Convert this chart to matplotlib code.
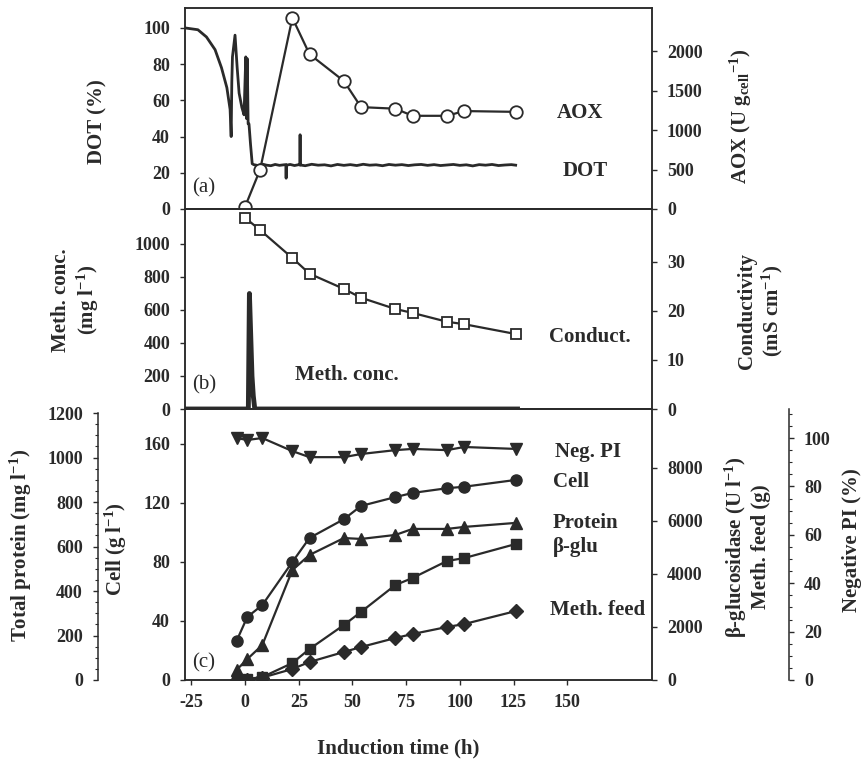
import numpy as np
import matplotlib
matplotlib.use("Agg")
import matplotlib.pyplot as plt
from matplotlib.ticker import MultipleLocator

plt.rcParams['font.family'] = ['Liberation Serif', 'DejaVu Serif']
plt.rcParams['font.weight'] = 'bold'
plt.rcParams['mathtext.fontset'] = 'custom'
plt.rcParams['mathtext.rm'] = 'Liberation Serif:bold'
plt.rcParams['mathtext.it'] = 'Liberation Serif:bold:italic'
plt.rcParams['mathtext.bf'] = 'Liberation Serif:bold'
plt.rcParams['axes.unicode_minus'] = False

INK = '#2a2a2a'

# ---- panel (a): dissolved oxygen (continuous record) and AOX activity
dot_time = [-28, -22, -18, -14, -11, -8.5, -7, -6.5, -6.2, -5.9, -4.7, -3.7, -2.8,
            -1.5, -0.5, 0.3, 0.6, 1.0, 1.4, 1.8, 2.5, 3.3,
            4, 6, 8, 10, 12, 14, 16, 18, 19.0, 19.1, 19.2, 21, 23, 25, 25.5, 25.6,
            25.7, 28, 31, 34, 37, 40, 43, 46, 49, 52, 55, 58, 61, 64, 67, 70, 73,
            76, 79, 82, 85, 88, 91, 94, 97, 100, 103, 106, 109, 112, 115, 118, 121,
            124, 126]
dot_pct = [100, 99, 95, 88, 78, 67, 55, 40, 70, 84, 96, 78, 64,
           56, 52, 84, 50, 83, 47, 47, 36, 25,
           24.5, 24.0, 24.8, 24.2, 23.9, 24.6, 24.1, 24.4, 24.5, 17, 24.2, 24.6, 24.0,
           24.5, 24.3, 41, 24.3, 23.9, 24.7, 24.2, 24.4, 23.8, 24.6, 24.1, 24.5, 24.0,
           24.7, 24.2, 24.4, 23.9, 24.6, 24.2, 24.5, 24.0, 24.4, 24.6, 24.1, 24.5,
           24.0, 24.3, 24.6, 24.1, 24.4, 23.8, 24.5, 24.2, 24.6, 24.0, 24.3, 24.5, 24.2]
t_aox = [0, 7, 22, 30, 46, 54, 70, 78, 94, 102, 126]
aox = [30, 500, 2420, 1960, 1620, 1290, 1270, 1180, 1180, 1240, 1230]

# ---- panel (b): methanol concentration and conductivity
meth_time = [-28, 1.5, 2.0, 2.6, 3.2, 3.8, 4.5, 128]
meth_conc = [0, 0, 700, 450, 200, 80, 0, 0]
t_cond = [0, 7, 22, 30, 46, 54, 70, 78, 94, 102, 126]
cond = [39, 36.5, 30.8, 27.6, 24.5, 22.7, 20.4, 19.6, 17.8, 17.3, 15.3]

# ---- panel (c): cell, protein, beta-glucosidase, methanol feed, negative PI
t_c = [-4, 1, 8, 22, 30, 46, 54, 70, 78, 94, 102, 126]
cell = [26.4, 42.7, 50.8, 80, 96.3, 109, 118, 124, 126.8, 130, 131, 135.6]
protein = [45, 94, 157, 494, 562, 638, 634, 652, 679, 679, 688, 706]
bglu = [20, 40, 110, 640, 1170, 2075, 2570, 3585, 3850, 4490, 4600, 5130]
meth_feed = [0, 0, 90, 415, 680, 1057, 1245, 1585, 1735, 2000, 2110, 2600]
neg_pi = [100, 99.2, 100, 94.6, 92.1, 92.1, 93.4, 95, 95.5, 95, 96.3, 95.5]

W_PX, H_PX = 865, 765
fig = plt.figure(figsize=(W_PX / 100, H_PX / 100), dpi=100)
fig.patch.set_facecolor('white')


def rect(top, bot, left=185, right=652):
    return [left / W_PX, 1 - bot / H_PX, (right - left) / W_PX, (bot - top) / H_PX]


def ftext(x, y, s, **kw):
    kw.setdefault('fontsize', 15)
    kw.setdefault('color', INK)
    fig.text(x / W_PX, 1 - y / H_PX, s, **kw)


def style(ax, minor=None):
    ax.tick_params(direction='out', length=3.8, width=1.0, labelsize=13, colors=INK)
    ax.tick_params(axis='y', pad=7)
    ax.tick_params(axis='x', pad=6)
    for s in ax.spines.values():
        s.set_color(INK)
        s.set_linewidth(1.1)
    if minor is not None:
        ax.yaxis.set_minor_locator(MultipleLocator(minor))
        ax.tick_params(which='minor', direction='out', length=2, width=0.8, colors=INK)


XLIM = (-28, 189.5)
ax_a = fig.add_axes(rect(8, 209))
ax_b = fig.add_axes(rect(209, 409))
ax_c = fig.add_axes(rect(409, 680))
for ax in (ax_a, ax_b, ax_c):
    ax.set_xlim(*XLIM)
    style(ax)
for ax in (ax_a, ax_b):
    ax.tick_params(axis='x', bottom=False, labelbottom=False)

# (a)
ax_a.plot(dot_time, dot_pct, color=INK, lw=2.0)
ax_a.set_ylim(0, 111)
ax_a.set_yticks(np.arange(0, 101, 20))
ax_a2 = ax_a.twinx()
ax_a2.plot(t_aox, aox, color=INK, lw=1.6, marker='o', ms=9, mfc='white', mec=INK, mew=1.3)
ax_a2.set_ylim(0, 2545)
ax_a2.set_yticks(np.arange(0, 2001, 500))
style(ax_a2)

# (b)
ax_b.plot(meth_time, meth_conc, color=INK, lw=3.5, clip_on=False, solid_capstyle='butt')
ax_b.set_ylim(0, 1212)
ax_b.set_yticks(np.arange(0, 1001, 200))
ax_b2 = ax_b.twinx()
ax_b2.plot(t_cond, cond, color=INK, lw=1.6, marker='s', ms=7.5, mfc='white', mec=INK, mew=1.3)
ax_b2.set_ylim(0, 40.8)
ax_b2.set_yticks([0, 10, 20, 30])
style(ax_b2)

# (c)
ax_c.plot(t_c, cell, color=INK, lw=1.6, marker='o', ms=8)
ax_c.set_ylim(0, 183.7)
ax_c.set_yticks(np.arange(0, 161, 40))
ax_c.set_xticks(np.arange(-25, 151, 25))

ax_cp = ax_c.twinx()
ax_cp.plot(t_c, protein, color=INK, lw=1.6, marker='^', ms=8)
ax_cp.set_ylim(0, 1218)
ax_cp.set_yticks(np.arange(0, 1201, 200))
for s in ax_cp.spines.values():
    s.set_visible(False)
ax_cp.spines['left'].set_visible(True)
ax_cp.spines['left'].set_position(('axes', (98 - 185) / 467))
ax_cp.spines['left'].set_bounds(0, 1200)
ax_cp.yaxis.tick_left()
style(ax_cp, minor=50)

ax_cb = ax_c.twinx()
ax_cb.plot(t_c, bglu, color=INK, lw=1.6, marker='s', ms=7)
ax_cb.plot(t_c, meth_feed, color=INK, lw=1.6, marker='D', ms=7)
ax_cb.set_ylim(0, 10226)
ax_cb.set_yticks(np.arange(0, 8001, 2000))
style(ax_cb)

ax_cn = ax_c.twinx()
ax_cn.plot(t_c, neg_pi, color=INK, lw=1.6, marker='v', ms=8)
ax_cn.set_ylim(0, 112)
ax_cn.set_yticks(np.arange(0, 101, 20))
for s in ax_cn.spines.values():
    s.set_visible(False)
ax_cn.spines['right'].set_visible(True)
ax_cn.spines['right'].set_position(('axes', (789 - 185) / 467))
style(ax_cn, minor=5)

# axis titles
ftext(97, 122, 'DOT (%)', rotation=90, ha='center', va='center')
ftext(76, 300, 'Meth. conc.\n(mg l$^{-1}$)', rotation=90, ha='center', va='center',
      multialignment='center', linespacing=1.15)
ftext(21, 545, 'Total protein (mg l$^{-1}$)', rotation=90, ha='center', va='center')
ftext(116, 549, 'Cell (g l$^{-1}$)', rotation=90, ha='center', va='center')
ftext(741, 116, 'AOX (U g$_{\\mathrm{cell}}$$^{-1}$)', rotation=90, ha='center', va='center')
ftext(761, 311, 'Conductivity\n(mS cm$^{-1}$)', rotation=90, ha='center', va='center',
      multialignment='center', linespacing=1.15)
ftext(747, 547, '\u03b2-glucosidase (U l$^{-1}$)\nMeth. feed (g)', rotation=90,
      ha='center', va='center', multialignment='center', linespacing=1.15)
ftext(852, 540, 'Negative PI (%)', rotation=90, ha='center', va='center')
ftext(398, 748, 'Induction time (h)', ha='center', va='center')

# series labels
for x, y, s in [(557, 113, 'AOX'), (563, 171, 'DOT'), (549, 337, 'Conduct.'),
                (295, 375, 'Meth. conc.'), (555, 452, 'Neg. PI'), (553, 482, 'Cell'),
                (553, 523, 'Protein'), (553, 547, '\u03b2-glu'), (550, 610, 'Meth. feed')]:
    ftext(x, y, s, ha='left', va='center')
for y, s in [(188, '(a)'), (385, '(b)'), (663, '(c)')]:
    ftext(192, y, s, ha='left', va='center', fontweight='normal')

fig.savefig('out.png', dpi=100, facecolor='white')
